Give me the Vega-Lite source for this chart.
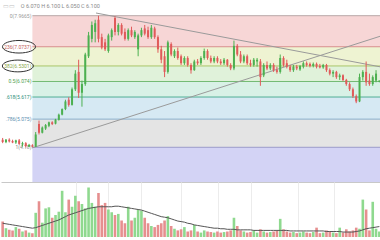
{
  "$schema": "https://vega.github.io/schema/vega-lite/v6.json",
  "padding": 0,
  "background": "white",
  "spacing": 0,
  "config": {"view": {"stroke": null}, "font": "Roboto", "scale": {"continuousPadding": 0}},
  "datasets": {
    "candles": [
      {"i":0,"o":4.40,"h":4.45,"l":4.30,"c":4.33,"d":"down","v":28,"ma":25},
      {"i":1,"o":4.33,"h":4.42,"l":4.30,"c":4.40,"d":"up","v":16,"ma":24},
      {"i":2,"o":4.40,"h":4.44,"l":4.32,"c":4.35,"d":"down","v":13,"ma":23},
      {"i":3,"o":4.36,"h":4.40,"l":4.30,"c":4.32,"d":"down","v":12,"ma":22},
      {"i":4,"o":4.32,"h":4.40,"l":4.28,"c":4.38,"d":"up","v":18,"ma":21},
      {"i":5,"o":4.38,"h":4.42,"l":4.25,"c":4.28,"d":"down","v":15,"ma":20},
      {"i":6,"o":4.26,"h":4.34,"l":4.20,"c":4.30,"d":"up","v":10,"ma":19},
      {"i":7,"o":4.30,"h":4.33,"l":4.18,"c":4.22,"d":"down","v":12,"ma":18},
      {"i":8,"o":4.20,"h":4.28,"l":4.19,"c":4.25,"d":"up","v":8,"ma":17},
      {"i":9,"o":4.24,"h":4.27,"l":4.1815,"c":4.20,"d":"down","v":7,"ma":16},
      {"i":10,"o":4.20,"h":4.62,"l":4.19,"c":4.55,"d":"up","v":44,"ma":17},
      {"i":11,"o":4.85,"h":4.95,"l":4.55,"c":4.60,"d":"down","v":65,"ma":19},
      {"i":12,"o":4.60,"h":4.78,"l":4.58,"c":4.75,"d":"up","v":26,"ma":21},
      {"i":13,"o":4.72,"h":4.85,"l":4.68,"c":4.82,"d":"up","v":52,"ma":23},
      {"i":14,"o":4.80,"h":4.92,"l":4.76,"c":4.90,"d":"up","v":54,"ma":25},
      {"i":15,"o":4.90,"h":4.93,"l":4.82,"c":4.85,"d":"down","v":35,"ma":27},
      {"i":16,"o":4.86,"h":5.00,"l":4.84,"c":4.98,"d":"up","v":40,"ma":29},
      {"i":17,"o":4.97,"h":5.15,"l":4.95,"c":5.12,"d":"up","v":46,"ma":31},
      {"i":18,"o":5.12,"h":5.30,"l":5.10,"c":5.28,"d":"up","v":84,"ma":34},
      {"i":19,"o":5.28,"h":5.55,"l":5.25,"c":5.50,"d":"up","v":45,"ma":37},
      {"i":20,"o":5.55,"h":5.62,"l":5.35,"c":5.40,"d":"down","v":68,"ma":40},
      {"i":21,"o":5.40,"h":5.90,"l":5.38,"c":5.85,"d":"up","v":55,"ma":42},
      {"i":22,"o":5.85,"h":6.40,"l":5.80,"c":6.30,"d":"up","v":75,"ma":44},
      {"i":23,"o":6.35,"h":6.70,"l":5.60,"c":5.75,"d":"down","v":65,"ma":46},
      {"i":24,"o":5.75,"h":6.10,"l":5.35,"c":6.00,"d":"up","v":60,"ma":48},
      {"i":25,"o":6.00,"h":6.90,"l":5.95,"c":6.85,"d":"up","v":52,"ma":50},
      {"i":26,"o":6.80,"h":7.50,"l":6.75,"c":7.40,"d":"up","v":90,"ma":52},
      {"i":27,"o":7.30,"h":7.80,"l":7.20,"c":7.70,"d":"up","v":62,"ma":53},
      {"i":28,"o":7.50,"h":7.85,"l":7.20,"c":7.75,"d":"up","v":55,"ma":54},
      {"i":29,"o":7.85,"h":7.9665,"l":7.20,"c":7.30,"d":"down","v":80,"ma":55},
      {"i":30,"o":7.35,"h":7.45,"l":7.00,"c":7.05,"d":"down","v":58,"ma":55},
      {"i":31,"o":7.20,"h":7.30,"l":6.95,"c":7.00,"d":"down","v":62,"ma":55},
      {"i":32,"o":6.95,"h":7.45,"l":6.90,"c":7.40,"d":"up","v":50,"ma":55},
      {"i":33,"o":7.35,"h":7.60,"l":7.25,"c":7.55,"d":"up","v":45,"ma":55},
      {"i":34,"o":7.90,"h":7.95,"l":7.40,"c":7.50,"d":"down","v":40,"ma":56},
      {"i":35,"o":7.50,"h":7.75,"l":7.40,"c":7.70,"d":"up","v":42,"ma":56},
      {"i":36,"o":7.70,"h":7.75,"l":7.40,"c":7.45,"d":"down","v":30,"ma":55},
      {"i":37,"o":7.50,"h":7.60,"l":7.25,"c":7.30,"d":"down","v":25,"ma":54},
      {"i":38,"o":7.30,"h":7.60,"l":7.25,"c":7.55,"d":"up","v":55,"ma":53},
      {"i":39,"o":7.55,"h":7.65,"l":7.35,"c":7.40,"d":"down","v":30,"ma":52},
      {"i":40,"o":7.35,"h":7.55,"l":7.30,"c":7.50,"d":"up","v":35,"ma":51},
      {"i":41,"o":7.00,"h":7.45,"l":6.80,"c":7.40,"d":"up","v":50,"ma":50},
      {"i":42,"o":7.40,"h":7.62,"l":7.35,"c":7.55,"d":"up","v":48,"ma":49},
      {"i":43,"o":7.60,"h":7.70,"l":7.40,"c":7.45,"d":"down","v":35,"ma":47},
      {"i":44,"o":7.55,"h":7.65,"l":7.30,"c":7.35,"d":"down","v":25,"ma":45},
      {"i":45,"o":7.35,"h":7.70,"l":7.30,"c":7.62,"d":"up","v":20,"ma":43},
      {"i":46,"o":7.60,"h":7.65,"l":7.30,"c":7.35,"d":"down","v":18,"ma":41},
      {"i":47,"o":7.35,"h":7.40,"l":6.90,"c":7.00,"d":"down","v":22,"ma":39},
      {"i":48,"o":7.00,"h":7.10,"l":6.60,"c":6.70,"d":"down","v":25,"ma":37},
      {"i":49,"o":6.80,"h":6.95,"l":6.20,"c":6.35,"d":"down","v":30,"ma":36},
      {"i":50,"o":6.35,"h":7.25,"l":6.30,"c":7.20,"d":"up","v":38,"ma":35},
      {"i":51,"o":7.15,"h":7.20,"l":6.80,"c":6.85,"d":"down","v":20,"ma":33},
      {"i":52,"o":6.80,"h":7.00,"l":6.75,"c":6.95,"d":"up","v":15,"ma":31},
      {"i":53,"o":6.95,"h":7.05,"l":6.70,"c":6.75,"d":"down","v":12,"ma":29},
      {"i":54,"o":6.80,"h":6.85,"l":6.55,"c":6.60,"d":"down","v":14,"ma":28},
      {"i":55,"o":6.60,"h":6.80,"l":6.55,"c":6.75,"d":"up","v":18,"ma":27},
      {"i":56,"o":6.75,"h":6.80,"l":6.50,"c":6.55,"d":"down","v":10,"ma":25},
      {"i":57,"o":6.55,"h":6.60,"l":6.30,"c":6.40,"d":"down","v":12,"ma":24},
      {"i":58,"o":6.40,"h":6.70,"l":6.38,"c":6.65,"d":"up","v":22,"ma":22},
      {"i":59,"o":6.65,"h":6.72,"l":6.55,"c":6.60,"d":"down","v":10,"ma":21},
      {"i":60,"o":6.60,"h":6.80,"l":6.55,"c":6.75,"d":"up","v":8,"ma":20},
      {"i":61,"o":6.75,"h":7.02,"l":6.70,"c":6.95,"d":"up","v":12,"ma":19},
      {"i":62,"o":6.95,"h":7.00,"l":6.70,"c":6.75,"d":"down","v":10,"ma":18},
      {"i":63,"o":6.75,"h":6.82,"l":6.60,"c":6.65,"d":"down","v":9,"ma":17},
      {"i":64,"o":6.65,"h":6.80,"l":6.60,"c":6.75,"d":"up","v":8,"ma":16},
      {"i":65,"o":6.75,"h":6.80,"l":6.60,"c":6.65,"d":"down","v":10,"ma":16},
      {"i":66,"o":6.65,"h":6.72,"l":6.55,"c":6.60,"d":"down","v":8,"ma":15},
      {"i":67,"o":6.60,"h":6.75,"l":6.55,"c":6.70,"d":"up","v":9,"ma":15},
      {"i":68,"o":6.70,"h":6.72,"l":6.50,"c":6.55,"d":"down","v":10,"ma":14},
      {"i":69,"o":6.55,"h":6.60,"l":6.40,"c":6.45,"d":"down","v":12,"ma":14},
      {"i":70,"o":6.45,"h":7.25,"l":6.40,"c":7.10,"d":"up","v":35,"ma":14},
      {"i":71,"o":7.10,"h":7.15,"l":6.80,"c":6.85,"d":"down","v":20,"ma":13},
      {"i":72,"o":6.85,"h":6.95,"l":6.60,"c":6.65,"d":"down","v":12,"ma":13},
      {"i":73,"o":6.65,"h":6.85,"l":6.60,"c":6.80,"d":"up","v":10,"ma":13},
      {"i":74,"o":6.80,"h":6.85,"l":6.55,"c":6.60,"d":"down","v":8,"ma":13},
      {"i":75,"o":6.60,"h":6.70,"l":6.50,"c":6.55,"d":"down","v":9,"ma":13},
      {"i":76,"o":6.55,"h":6.75,"l":6.50,"c":6.70,"d":"up","v":12,"ma":12},
      {"i":77,"o":6.65,"h":6.75,"l":6.50,"c":6.70,"d":"up","v":8,"ma":12},
      {"i":78,"o":6.65,"h":6.72,"l":5.95,"c":6.20,"d":"down","v":14,"ma":12},
      {"i":79,"o":6.25,"h":6.60,"l":6.20,"c":6.55,"d":"up","v":10,"ma":12},
      {"i":80,"o":6.55,"h":6.65,"l":6.40,"c":6.45,"d":"down","v":8,"ma":12},
      {"i":81,"o":6.45,"h":6.60,"l":6.40,"c":6.55,"d":"up","v":9,"ma":12},
      {"i":82,"o":6.55,"h":6.60,"l":6.35,"c":6.40,"d":"down","v":10,"ma":12},
      {"i":83,"o":6.40,"h":6.50,"l":6.30,"c":6.35,"d":"down","v":12,"ma":12},
      {"i":84,"o":6.35,"h":6.85,"l":6.30,"c":6.75,"d":"up","v":33,"ma":12},
      {"i":85,"o":6.75,"h":6.80,"l":6.50,"c":6.55,"d":"down","v":14,"ma":12},
      {"i":86,"o":6.60,"h":6.70,"l":6.45,"c":6.50,"d":"down","v":10,"ma":12},
      {"i":87,"o":6.50,"h":6.55,"l":6.35,"c":6.40,"d":"down","v":8,"ma":11},
      {"i":88,"o":6.40,"h":6.55,"l":6.35,"c":6.50,"d":"up","v":9,"ma":11},
      {"i":89,"o":6.50,"h":6.55,"l":6.40,"c":6.45,"d":"down","v":7,"ma":11},
      {"i":90,"o":6.42,"h":6.55,"l":6.38,"c":6.52,"d":"up","v":8,"ma":11},
      {"i":91,"o":6.50,"h":6.65,"l":6.45,"c":6.60,"d":"up","v":10,"ma":11},
      {"i":92,"o":6.60,"h":6.65,"l":6.50,"c":6.55,"d":"down","v":8,"ma":11},
      {"i":93,"o":6.58,"h":6.62,"l":6.48,"c":6.52,"d":"down","v":7,"ma":11},
      {"i":94,"o":6.52,"h":6.62,"l":6.48,"c":6.58,"d":"up","v":9,"ma":11},
      {"i":95,"o":6.58,"h":6.62,"l":6.45,"c":6.50,"d":"down","v":17,"ma":11},
      {"i":96,"o":6.52,"h":6.58,"l":6.45,"c":6.48,"d":"down","v":7,"ma":11},
      {"i":97,"o":6.48,"h":6.58,"l":6.44,"c":6.55,"d":"up","v":8,"ma":11},
      {"i":98,"o":6.55,"h":6.58,"l":6.35,"c":6.40,"d":"down","v":12,"ma":10},
      {"i":99,"o":6.40,"h":6.45,"l":6.25,"c":6.30,"d":"down","v":10,"ma":10},
      {"i":100,"o":6.30,"h":6.40,"l":6.20,"c":6.35,"d":"up","v":8,"ma":10},
      {"i":101,"o":6.35,"h":6.38,"l":6.15,"c":6.20,"d":"down","v":7,"ma":10},
      {"i":102,"o":6.20,"h":6.30,"l":6.12,"c":6.25,"d":"up","v":17,"ma":10},
      {"i":103,"o":6.25,"h":6.28,"l":6.08,"c":6.12,"d":"down","v":8,"ma":9},
      {"i":104,"o":6.12,"h":6.15,"l":5.95,"c":6.00,"d":"down","v":14,"ma":9},
      {"i":105,"o":6.00,"h":6.05,"l":5.80,"c":5.85,"d":"down","v":10,"ma":9},
      {"i":106,"o":5.85,"h":5.90,"l":5.60,"c":5.65,"d":"down","v":12,"ma":9},
      {"i":107,"o":5.65,"h":5.70,"l":5.45,"c":5.50,"d":"down","v":17,"ma":10},
      {"i":108,"o":5.50,"h":6.30,"l":5.48,"c":6.20,"d":"up","v":15,"ma":11},
      {"i":109,"o":6.20,"h":6.40,"l":6.10,"c":6.35,"d":"up","v":68,"ma":13},
      {"i":110,"o":6.35,"h":6.65,"l":5.95,"c":6.05,"d":"down","v":50,"ma":15},
      {"i":111,"o":6.10,"h":6.30,"l":5.95,"c":6.00,"d":"down","v":12,"ma":16},
      {"i":112,"o":6.00,"h":6.25,"l":5.95,"c":6.20,"d":"up","v":64,"ma":17},
      {"i":113,"o":6.10,"h":6.40,"l":6.05,"c":6.30,"d":"up","v":15,"ma":18},
      {"i":114,"o":6.07,"h":6.10,"l":6.05,"c":6.10,"d":"up","v":10,"ma":19}
    ],
    "bands": [
      {"band":"b0","top":7.9665,"bot":7.0733},
      {"band":"b1","top":7.0733,"bot":6.5206},
      {"band":"b2","top":6.5206,"bot":6.074},
      {"band":"b3","top":6.074,"bot":5.6274},
      {"band":"b4","top":5.6274,"bot":4.9915},
      {"band":"b5","top":4.9915,"bot":4.1815},
      {"band":"b6","top":4.1815,"bot":3.183}
    ],
    "levels": [
      {"lvl":"0","p":7.9665,"label":"0(7.9665)"},
      {"lvl":"0.236","p":7.0733,"label":".236(7.0737)"},
      {"lvl":"0.382","p":6.5206,"label":".382(6.5301)"},
      {"lvl":"0.5","p":6.074,"label":"0.5(6.074)"},
      {"lvl":"0.618","p":5.6274,"label":".618(5.617)"},
      {"lvl":"0.786","p":4.9915,"label":".786(5.075)"},
      {"lvl":"1","p":4.1815,"label":"1(4.18)"}
    ],
    "trend": [
      {"id":"a","i":28.25,"p":8.044},
      {"id":"a","i":114.5,"p":6.491},
      {"id":"b","i":8.9,"p":4.162},
      {"id":"b","i":114.5,"p":7.383}
    ]
  },
  "vconcat": [
    {
      "width": 380,
      "height": 182,
      "resolve": {"scale": {"color": "independent"}},
      "layer": [
        {
          "data": {"name": "bands"},
          "mark": {"type": "rect", "clip": true},
          "encoding": {
            "x": {"datum": 9, "type": "quantitative", "scale": {"domain": [-0.5, 114.5], "nice": false, "zero": false, "padding": 0}, "axis": {"title": null, "labels": false, "ticks": false, "grid": false, "domain": true, "domainColor": "#c8c8c8", "orient": "bottom"}},
            "x2": {"datum": 114.5},
            "y": {"field": "top", "type": "quantitative", "scale": {"domain": [3.183, 8.418], "nice": false, "zero": false, "padding": 0}, "axis": null},
            "y2": {"field": "bot"},
            "color": {"field": "band", "type": "nominal", "legend": null,
              "scale": {"domain": ["b0","b1","b2","b3","b4","b5","b6"], "range": ["#f7d6d6","#eef3d2","#e0f2da","#d8f1e6","#d6e9f3","#e4e4e4","#d3d3f5"]}}
          }
        },
        {
          "data": {"name": "levels"},
          "mark": {"type": "rule", "strokeWidth": 1},
          "encoding": {
            "x": {"datum": 9, "type": "quantitative"},
            "x2": {"datum": 114.5},
            "y": {"field": "p", "type": "quantitative"},
            "color": {"field": "lvl", "type": "nominal", "legend": null,
              "scale": {"domain": ["0","0.236","0.382","0.5","0.618","0.786","1"], "range": ["#b8a8a8","#d88c8c","#a9c56a","#74bb74","#4fae96","#88aecb","#9a9ac8"]}}
          }
        },
        {
          "data": {"name": "levels"},
          "mark": {"type": "text", "align": "right", "baseline": "middle", "fontSize": 5, "dx": -1},
          "encoding": {
            "x": {"datum": 9, "type": "quantitative"},
            "y": {"field": "p", "type": "quantitative"},
            "text": {"field": "label"},
            "color": {"field": "lvl", "type": "nominal", "legend": null,
              "scale": {"domain": ["0","0.236","0.382","0.5","0.618","0.786","1"], "range": ["#999999","#c06060","#8aa84a","#4e9e4e","#2f8f7a","#5d8fb0","#888888"]}}
          }
        },
        {
          "data": {"name": "trend"},
          "mark": {"type": "line", "color": "#9a9a9a", "strokeWidth": 1, "clip": true},
          "encoding": {
            "x": {"field": "i", "type": "quantitative"},
            "y": {"field": "p", "type": "quantitative"},
            "detail": {"field": "id"}
          }
        },
        {
          "data": {"name": "candles"},
          "mark": {"type": "rule", "strokeWidth": 1},
          "encoding": {
            "x": {"field": "i", "type": "quantitative"},
            "y": {"field": "l", "type": "quantitative"},
            "y2": {"field": "h"},
            "color": {"field": "d", "type": "nominal", "legend": null, "scale": {"domain": ["up","down"], "range": ["#4cb050","#e05a5a"]}}
          }
        },
        {
          "data": {"name": "candles"},
          "mark": {"type": "bar", "width": 2},
          "encoding": {
            "x": {"field": "i", "type": "quantitative"},
            "y": {"field": "o", "type": "quantitative"},
            "y2": {"field": "c"},
            "color": {"field": "d", "type": "nominal", "legend": null, "scale": {"domain": ["up","down"], "range": ["#4cb050","#e05a5a"]}}
          }
        },
        {
          "data": {"values": [{}]},
          "mark": {"type": "point", "filled": false, "stroke": "#333333", "strokeWidth": 1, "opacity": 1, "size": 1089,
            "shape": "M -1 0 C -1 -0.21 -0.552 -0.38 0 -0.38 C 0.552 -0.38 1 -0.21 1 0 C 1 0.21 0.552 0.38 0 0.38 C -0.552 0.38 -1 0.21 -1 0 Z"},
          "encoding": {
            "x": {"datum": 4.95, "type": "quantitative"},
            "y": {"datum": 7.0733, "type": "quantitative"}
          }
        },
        {
          "data": {"values": [{}]},
          "mark": {"type": "point", "filled": false, "stroke": "#333333", "strokeWidth": 1, "opacity": 1, "size": 961,
            "shape": "M -1 0 C -1 -0.21 -0.552 -0.38 0 -0.38 C 0.552 -0.38 1 -0.21 1 0 C 1 0.21 0.552 0.38 0 0.38 C -0.552 0.38 -1 0.21 -1 0 Z"},
          "encoding": {
            "x": {"datum": 4.6, "type": "quantitative"},
            "y": {"datum": 6.5206, "type": "quantitative"}
          }
        },
        {
          "data": {"values": [{"t": "O 6.070 H 6.100 L 6.050 C 6.100"}]},
          "mark": {"type": "text", "align": "left", "baseline": "middle", "fontSize": 5.5, "color": "#8a8a8a"},
          "encoding": {
            "x": {"datum": 5.5, "type": "quantitative"},
            "y": {"datum": 8.245, "type": "quantitative"},
            "text": {"field": "t"}
          }
        },
        {
          "data": {"values": [{"t": "▭▭"}]},
          "mark": {"type": "text", "align": "left", "baseline": "middle", "fontSize": 6, "color": "#c0c0c0"},
          "encoding": {
            "x": {"datum": 0, "type": "quantitative"},
            "y": {"datum": 8.245, "type": "quantitative"},
            "text": {"field": "t"}
          }
        }
      ]
    },
    {
      "width": 380,
      "height": 55,
      "data": {"name": "candles"},
      "layer": [
        {
          "mark": {"type": "bar", "width": 2.6},
          "encoding": {
            "x": {"field": "i", "type": "quantitative", "scale": {"domain": [-0.5, 114.5], "nice": false, "zero": false, "padding": 0},
              "axis": {"title": null, "labels": false, "ticks": false, "domain": true, "domainColor": "#c8c8c8", "grid": true, "gridColor": "#ececec", "values": [22.2, 31.9, 41.9, 54, 65.2, 75.2, 89.4, 100.3]}},
            "y": {"field": "v", "type": "quantitative", "scale": {"domain": [0, 100], "nice": false}, "axis": null},
            "color": {"field": "d", "type": "nominal", "legend": null, "scale": {"domain": ["up","down"], "range": ["#8fd98f","#e68f8f"]}}
          }
        },
        {
          "mark": {"type": "line", "color": "#555555", "strokeWidth": 1},
          "encoding": {
            "x": {"field": "i", "type": "quantitative"},
            "y": {"field": "ma", "type": "quantitative"}
          }
        }
      ]
    }
  ]
}
